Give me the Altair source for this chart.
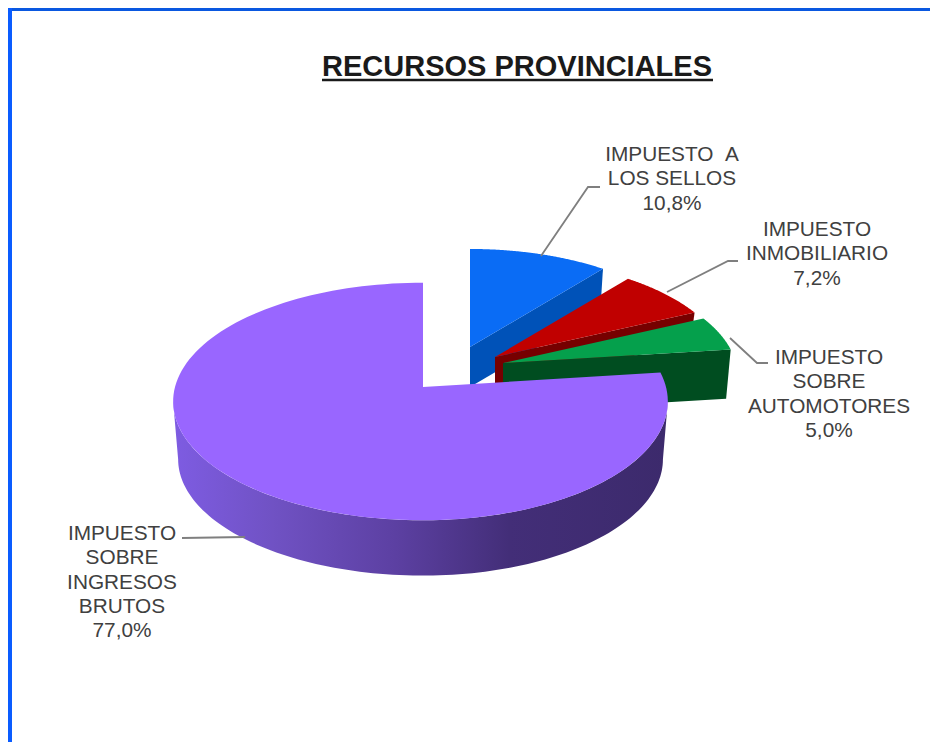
import math
import altair as alt
import numpy as np
import pandas as pd

# ---- data ----
categories = ["IMPUESTO A LOS SELLOS", "IMPUESTO INMOBILIARIO",
              "IMPUESTO SOBRE AUTOMOTORES", "IMPUESTO SOBRE INGRESOS BRUTOS"]
values = [10.8, 7.2, 5.0, 77.0]
value_labels = ["10,8%", "7,2%", "5,0%", "77,0%"]
label_lines = [["IMPUESTO \u00a0A", "LOS SELLOS"], ["IMPUESTO", "INMOBILIARIO"],
               ["IMPUESTO", "SOBRE", "AUTOMOTORES"], ["IMPUESTO", "SOBRE", "INGRESOS", "BRUTOS"]]
title_text = "RECURSOS PROVINCIALES"

# ---- layout and style (page pixels minus the 8px margin) ----
M = 8
W, H = 922, 734
top_colors = ["#0a6cf5", "#c00000", "#05a04c", "#9966ff"]
wall_colors = ["#0052b8", "#760000", "#004d20", None]
apex = [(470, 347), (495, 357), (503, 363), (423, 387)]
radii = [(232, 232, 110), (232, 232, 110), (233, 233, 110), (243, 248, 117)]
wall_h = [40, 30, 49, 58]
P = 0.122
SHRINK = 0.98
FRONT = (97.0, 263.0)   # where the big slice's outline turns, in degrees
label_pos = [(672, 155), (817, 230), (829, 358), (122, 534)]
LINE = 24.3
leaders = [[(541, 256), (588, 187), (600, 187)],
           [(667, 292), (728, 261), (738, 261)],
           [(730, 338), (757, 363), (768, 363)],
           [(245, 537), (182, 538)]]


def rim(theta, rx_right, rx_left, ry):
    t = math.radians(theta)
    d = 1 + P * math.cos(t)
    rx = rx_right if math.sin(t) >= 0 else rx_left
    return rx * math.sin(t) / d, -ry * math.cos(t) / d


def px(p):
    return [p[0] - M, p[1] - M]


def feature(ring, color):
    ring = ring + [ring[0]]
    return {"type": "Feature", "properties": {"color": color, "kind": "slice"},
            "geometry": {"type": "Polygon", "coordinates": [ring]}}


back, purple_wall, purple_top = [], [], []
start = 0.0
for i, v in enumerate(values):
    end = start + v * 3.6
    ax, ay = apex[i]
    rr = radii[i]
    arc = [rim(t, *rr) for t in np.linspace(start, end, 140)]
    top = [px((ax + x, ay + y)) for x, y in arc]
    if i < 3:
        ex, ey = arc[-1]
        cut = [px((ax, ay)), px((ax + ex, ay + ey)),
               px((ax + ex * SHRINK, ay + ey * SHRINK + wall_h[i])),
               px((ax, ay + wall_h[i]))]
        back.append(feature(cut, wall_colors[i]))
        back.append(feature([px((ax, ay))] + top, top_colors[i]))
    else:
        front = [rim(t, *rr) for t in np.linspace(FRONT[0], FRONT[1], 120)]
        f_top = [px((ax + x, ay + y)) for x, y in front]
        f_bot = [px((ax + x * SHRINK, ay + y * SHRINK + wall_h[i])) for x, y in front]
        purple_wall.append(feature(f_top + f_bot[::-1], "wall"))
        purple_top.append(feature([px((ax, ay))] + top, top_colors[i]))
    start = end

proj = dict(type="identity", scale=1, translate=[0, 0])
fill_enc = alt.Color("properties.color:N", scale=None, legend=None)

back_layer = alt.Chart(alt.Data(values=back)).mark_geoshape(strokeWidth=0).encode(fill=fill_enc).project(**proj)
wall_layer = alt.Chart(alt.Data(values=purple_wall)).mark_geoshape(
    strokeWidth=0,
    fill=alt.LinearGradient(
        gradient="linear", x1=0, x2=1, y1=0, y2=0,
        stops=[alt.GradientStop(color="#7e5ce2", offset=0),
               alt.GradientStop(color="#7052c4", offset=0.2),
               alt.GradientStop(color="#5c40a2", offset=0.45),
               alt.GradientStop(color="#432e78", offset=0.68),
               alt.GradientStop(color="#3c2a6c", offset=1)])
).project(**proj)
top_layer = alt.Chart(alt.Data(values=purple_top)).mark_geoshape(strokeWidth=0).encode(fill=fill_enc).project(**proj)

# labels
rows = []
for i, lines in enumerate(label_lines):
    x, y = label_pos[i]
    for j, t in enumerate(lines + [value_labels[i]]):
        rows.append({"x": x - M, "y": y - M + j * LINE, "t": t, "category": categories[i]})
labels = alt.Chart(pd.DataFrame(rows)).mark_text(
    font="Liberation Sans", fontSize=20.8, color="#404040", align="center", baseline="middle"
).encode(x=alt.X("x:Q", scale=None), y=alt.Y("y:Q", scale=None), text="t:N")

# leader lines
lrows = []
for i, pts in enumerate(leaders):
    for k, (a, b) in enumerate(pts):
        lrows.append({"x": a - M, "y": b - M, "k": k, "g": i})
leader_layer = alt.Chart(pd.DataFrame(lrows)).mark_line(color="#7f7f7f", strokeWidth=1.8).encode(
    x=alt.X("x:Q", scale=None), y=alt.Y("y:Q", scale=None), detail="g:N", order="k:Q")

# title and its underline
title = alt.Chart(pd.DataFrame({"x": [517 - M], "y": [67 - M], "t": [title_text]})).mark_text(
    font="Liberation Sans", fontSize=29, fontWeight="bold", color="#1a1a1a", align="center", baseline="middle"
).encode(x=alt.X("x:Q", scale=None), y=alt.Y("y:Q", scale=None), text="t:N")
underline = alt.Chart(pd.DataFrame({"x": [322 - M], "x2": [713 - M], "y": [80 - M]})).mark_rule(
    color="#1a1a1a", strokeWidth=2.5
).encode(x=alt.X("x:Q", scale=None), x2="x2:Q", y=alt.Y("y:Q", scale=None))

# blue frame along the top and left edges
frame_top = alt.Chart(pd.DataFrame({"x": [0], "x2": [W], "y": [1.5]})).mark_rule(
    color="#0a58e0", strokeWidth=3
).encode(x=alt.X("x:Q", scale=None), x2="x2:Q", y=alt.Y("y:Q", scale=None))
frame_left = alt.Chart(pd.DataFrame({"x": [2], "y": [0], "y2": [H]})).mark_rule(
    color="#0a5cff", strokeWidth=4
).encode(x=alt.X("x:Q", scale=None), y=alt.Y("y:Q", scale=None), y2="y2:Q")

chart = alt.layer(
    frame_top, frame_left, back_layer, wall_layer, top_layer,
    leader_layer, labels, title, underline
).resolve_scale(x="independent", y="independent").properties(
    width=W, height=H, padding=0, autosize=alt.AutoSizeParams(type="none"),
    background="white"
).configure_view(stroke=None)

chart.save("out.html", embed_options={"renderer": "svg", "actions": False})
